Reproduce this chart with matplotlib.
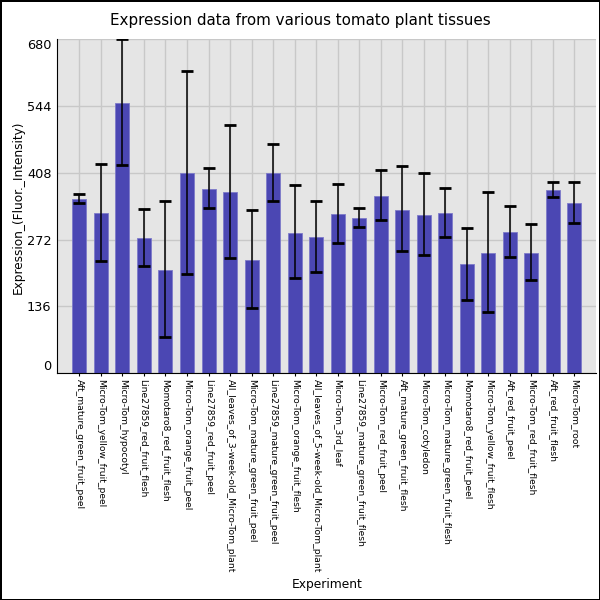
import matplotlib
matplotlib.use("Agg")
import matplotlib.pyplot as plt
import numpy as np

experiments = [
    "Aft_mature_green_fruit_peel", "Micro-Tom_yellow_fruit_peel", "Micro-Tom_hypocotyl",
    "Line27859_red_fruit_flesh", "Momotaro8_red_fruit_flesh", "Micro-Tom_orange_fruit_peel",
    "Line27859_red_fruit_peel", "All_leaves_of_3-week-old_Micro-Tom_plant",
    "Micro-Tom_mature_green_fruit_peel", "Line27859_mature_green_fruit_peel",
    "Micro-Tom_orange_fruit_flesh", "All_leaves_of_5-week-old_Micro-Tom_plant",
    "Micro-Tom_3rd_leaf", "Line27859_mature_green_fruit_flesh", "Micro-Tom_red_fruit_peel",
    "Aft_mature_green_fruit_flesh", "Micro-Tom_cotyledon", "Micro-Tom_mature_green_fruit_flesh",
    "Momotaro8_red_fruit_peel", "Micro-Tom_yellow_fruit_flesh", "Aft_red_fruit_peel",
    "Micro-Tom_red_fruit_flesh", "Aft_red_fruit_flesh", "Micro-Tom_root",
]
expression = [354, 326, 550, 275, 210, 407, 375, 369, 230, 407, 286, 277,
              324, 316, 360, 332, 322, 326, 222, 244, 287, 244, 373, 346]
err_high = [364, 425, 679, 334, 350, 615, 418, 505, 332, 467, 383, 350,
            384, 337, 413, 421, 407, 376, 295, 368, 340, 303, 389, 390]
err_low = [347, 228, 424, 218, 73, 202, 336, 234, 132, 350, 193, 205,
           265, 298, 311, 248, 240, 277, 149, 124, 236, 190, 359, 305]
yticks = [0, 136, 272, 408, 544, 680]


def plot():
    fig = plt.figure(figsize=(6, 6), dpi=100, edgecolor="black", linewidth=2)
    ax = fig.add_axes([0.095, 0.378, 0.898, 0.557])
    x = np.arange(len(experiments))
    vals = np.array(expression)
    yerr = [vals - np.array(err_low), np.array(err_high) - vals]

    ax.set_facecolor("#e5e5e5")
    ax.bar(x, vals, width=0.65, color="#4b47b3", edgecolor="#7d7ac9",
           linewidth=0.6, zorder=2)
    ax.errorbar(x, vals, yerr=yerr, fmt="none", ecolor="black", elinewidth=1.1,
                capsize=4.5, capthick=2, zorder=3)

    ax.set_xlim(-1.04, 23.99)
    ax.set_ylim(0, 680)
    ax.set_yticks(yticks)
    ax.set_xticks(x)
    ax.set_xticklabels(experiments, rotation=270, fontsize=6.6)
    ax.grid(True, color="#c8c8c8", linewidth=1, zorder=0)
    ax.set_axisbelow(True)
    for side in ["top", "right"]:
        ax.spines[side].set_visible(False)
    ax.tick_params(axis="x", length=2, pad=2)
    ax.tick_params(axis="y", length=0, labelsize=9.3, pad=4)
    labels = ax.get_yticklabels()
    labels[0].set_va("bottom")
    labels[-1].set_va("top")

    fig.text(0.03, 0.655, "Expression_(Fluor._Intensity)", rotation=90,
             ha="center", va="center", fontsize=8.7)
    fig.text(0.545, 0.02, "Experiment", ha="center", fontsize=8.8)
    fig.text(0.5, 0.965, "Expression data from various tomato plant tissues",
             ha="center", va="center", fontsize=10.9)
    fig.savefig("out.png", dpi=100)


if __name__ == "__main__":
    plot()
